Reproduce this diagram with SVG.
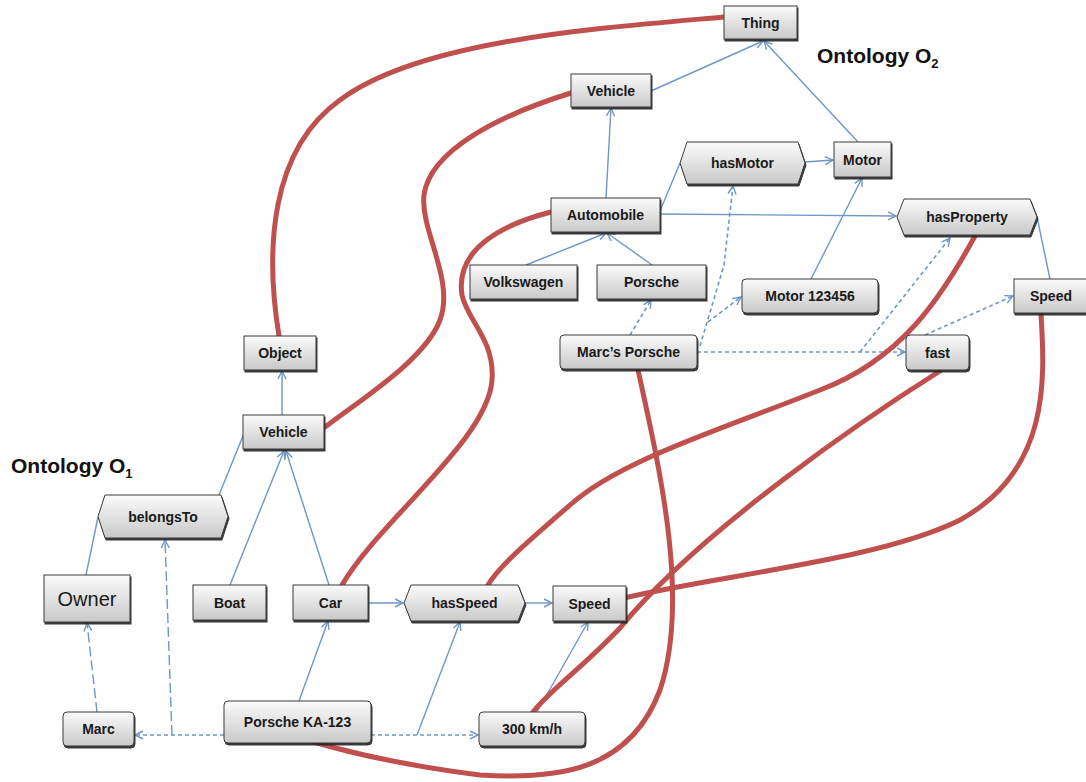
<svg xmlns="http://www.w3.org/2000/svg" width="1086" height="782" viewBox="0 0 1086 782">
<defs>
<linearGradient id="g" x1="0" y1="0" x2="0" y2="1">
<stop offset="0" stop-color="#fbfbfb"/>
<stop offset="1" stop-color="#c9c9c9"/>
</linearGradient>
<filter id="sh" x="-10%" y="-10%" width="130%" height="140%">
<feDropShadow dx="1" dy="2" stdDeviation="0.6" flood-color="#222" flood-opacity="0.9"/>
</filter>
<marker id="a" viewBox="0 0 10 10" refX="9" refY="5" markerWidth="10" markerHeight="10" markerUnits="userSpaceOnUse" orient="auto">
<path d="M1,1 L9,5 L1,9" fill="none" stroke="#6f96c8" stroke-width="1.4"/>
</marker>
<style>
.n{fill:url(#g);stroke:#3a3a3a;stroke-width:1;filter:url(#sh)}
.t{font-family:"Liberation Sans",Arial,sans-serif;font-size:14px;font-weight:bold;fill:#1a1a1a;text-anchor:middle;dominant-baseline:central}
.title{font-family:"Liberation Sans",Arial,sans-serif;font-size:21px;font-weight:bold;fill:#111}
.c{fill:none;stroke:#6f96c8;stroke-width:1.4}
.d{fill:none;stroke:#6f96c8;stroke-width:1.6;stroke-dasharray:4,3}
.ld{fill:none;stroke:#6f96c8;stroke-width:1.4;stroke-dasharray:10,4}
.r{fill:none;stroke:#c0504d;stroke-width:5;stroke-linecap:round}
</style>
</defs>
<rect width="1086" height="782" fill="#fff"/>

<text class="title" x="817" y="63">Ontology O<tspan font-size="13" dy="5">2</tspan></text>
<text class="title" x="11" y="473">Ontology O<tspan font-size="13" dy="5">1</tspan></text>

<g id="connectors">
<!-- O2 solid -->
<path class="c" d="M651,91 L763,41" marker-end="url(#a)"/>
<path class="c" d="M858,142 L764,41" marker-end="url(#a)"/>
<path class="c" d="M606,198 L611,108" marker-end="url(#a)"/>
<path class="c" d="M660,211 L680,163"/>
<path class="c" d="M805,162 L833,160" marker-end="url(#a)"/>
<path class="c" d="M660,214 L896,216" marker-end="url(#a)"/>
<path class="c" d="M1037,217 L1050,279"/>
<path class="c" d="M526,265 L606,233" marker-end="url(#a)"/>
<path class="c" d="M652,265 L607,233" marker-end="url(#a)"/>
<path class="c" d="M811,279 L862,178" marker-end="url(#a)"/>
<!-- O2 dashed -->
<path class="d" d="M630,335 L651,300" marker-end="url(#a)"/>
<path class="d" d="M700,346 L724,265 L733,186" marker-end="url(#a)"/>
<path class="d" d="M708,322 L741,297" marker-end="url(#a)"/>
<path class="d" d="M697,352 L905,352" marker-end="url(#a)"/>
<path class="d" d="M860,352 L950,238" marker-end="url(#a)"/>
<path class="d" d="M925,335 L1013,296" marker-end="url(#a)"/>
<!-- O1 solid -->
<path class="c" d="M282,415 L282,371" marker-end="url(#a)"/>
<path class="c" d="M219,495 L243,436"/>
<path class="c" d="M86,575 L98,517"/>
<path class="c" d="M230,585 L284,451" marker-end="url(#a)"/>
<path class="c" d="M329,585 L286,451" marker-end="url(#a)"/>
<path class="c" d="M368,603 L403,603" marker-end="url(#a)"/>
<path class="c" d="M525,603 L552,603" marker-end="url(#a)"/>
<path class="c" d="M299,701 L328,621" marker-end="url(#a)"/>
<path class="c" d="M417,735 L460,622" marker-end="url(#a)"/>
<path class="c" d="M537,712 L588,622" marker-end="url(#a)"/>
<!-- O1 dashed -->
<path class="ld" d="M97,712 L87,623" marker-end="url(#a)"/>
<path class="ld" d="M172,735 L165,540" marker-end="url(#a)"/>
<path class="d" d="M224,735 L135,735" marker-end="url(#a)"/>
<path class="d" d="M371,735 L478,735" marker-end="url(#a)"/>
<!-- mappings -->
<path class="r" d="M724,17 C600,28 420,40 340,100 C270,150 265,250 279,336"/>
<path class="r" d="M571,93 C500,115 430,150 424,195 C420,230 455,280 440,320 C425,360 360,400 325,427"/>
<path class="r" d="M551,212 C500,225 455,250 462,295 C467,320 495,340 492,380 C488,440 380,520 342,585"/>
<path class="r" d="M975,236 C940,300 900,360 820,390 C720,430 620,460 570,505 C530,540 500,565 488,585"/>
<path class="r" d="M940,371 C870,415 700,530 620,628 C580,670 550,690 533,712"/>
<path class="r" d="M1041,314 C1045,380 1050,470 960,520 C880,560 720,575 624,598"/>
<path class="r" d="M638,370 C660,470 690,600 660,690 C630,770 560,780 480,775 C400,765 340,750 307,740"/>
</g>

<g id="thing"><rect class="n" x="724" y="6" width="73" height="33"/><text class="t" x="760.5" y="22.5">Thing</text></g>
<g id="vehicle2"><rect class="n" x="571" y="74" width="80" height="33"/><text class="t" x="611" y="90.5">Vehicle</text></g>
<g id="hasMotor"><polygon class="n" points="687,142 798,142 805,163 798,184 687,184 680,163"/><text class="t" x="742.5" y="163">hasMotor</text></g>
<g id="motor"><rect class="n" x="834" y="142" width="57" height="35"/><text class="t" x="862.5" y="159.5">Motor</text></g>
<g id="automobile"><rect class="n" x="551" y="198" width="109" height="34"/><text class="t" x="605.5" y="215">Automobile</text></g>
<g id="hasProperty"><polygon class="n" points="904,199 1030,199 1037,217 1030,235 904,235 897,217"/><text class="t" x="967" y="217">hasProperty</text></g>
<g id="volkswagen"><rect class="n" x="470" y="265" width="107" height="34"/><text class="t" x="523.5" y="282">Volkswagen</text></g>
<g id="porsche"><rect class="n" x="597" y="265" width="109" height="34"/><text class="t" x="651.5" y="282">Porsche</text></g>
<g id="motor123456"><rect class="n" x="742" y="279" width="136" height="34" rx="4"/><text class="t" x="810" y="296">Motor 123456</text></g>
<g id="speed2"><rect class="n" x="1014" y="279" width="80" height="34"/><text class="t" x="1051" y="296">Speed</text></g>
<g id="marcsPorsche"><rect class="n" x="560" y="335" width="137" height="34" rx="4"/><text class="t" x="628.5" y="352">Marc’s Porsche</text></g>
<g id="fast"><rect class="n" x="906" y="335" width="63" height="35" rx="4"/><text class="t" x="937.5" y="352.5">fast</text></g>

<g id="object"><rect class="n" x="244" y="336" width="72" height="34"/><text class="t" x="280" y="353">Object</text></g>
<g id="vehicle1"><rect class="n" x="243" y="415" width="81" height="34"/><text class="t" x="283.5" y="432">Vehicle</text></g>
<g id="belongsTo"><polygon class="n" points="105,495 221,495 228,516.5 221,538 105,538 98,516.5"/><text class="t" x="163" y="516.5">belongsTo</text></g>
<g id="owner"><rect class="n" x="44" y="575" width="86" height="47"/><text class="t" x="87" y="598.5" style="font-size:20px;font-weight:normal">Owner</text></g>
<g id="boat"><rect class="n" x="193" y="585" width="73" height="35"/><text class="t" x="229.5" y="602.5">Boat</text></g>
<g id="car"><rect class="n" x="293" y="585" width="75" height="35"/><text class="t" x="330.5" y="602.5">Car</text></g>
<g id="hasSpeed"><polygon class="n" points="411,585 518,585 525,603 518,621 411,621 404,603"/><text class="t" x="464.5" y="603">hasSpeed</text></g>
<g id="speed1"><rect class="n" x="553" y="586" width="73" height="35"/><text class="t" x="589.5" y="603.5">Speed</text></g>
<g id="marc"><rect class="n" x="63" y="712" width="71" height="34" rx="4"/><text class="t" x="98.5" y="729">Marc</text></g>
<g id="porscheKA123"><rect class="n" x="224" y="701" width="147" height="42" rx="4"/><text class="t" x="297.5" y="722">Porsche KA-123</text></g>
<g id="kmh300"><rect class="n" x="479" y="712" width="106" height="34" rx="4"/><text class="t" x="532" y="729">300 km/h</text></g>
</svg>
